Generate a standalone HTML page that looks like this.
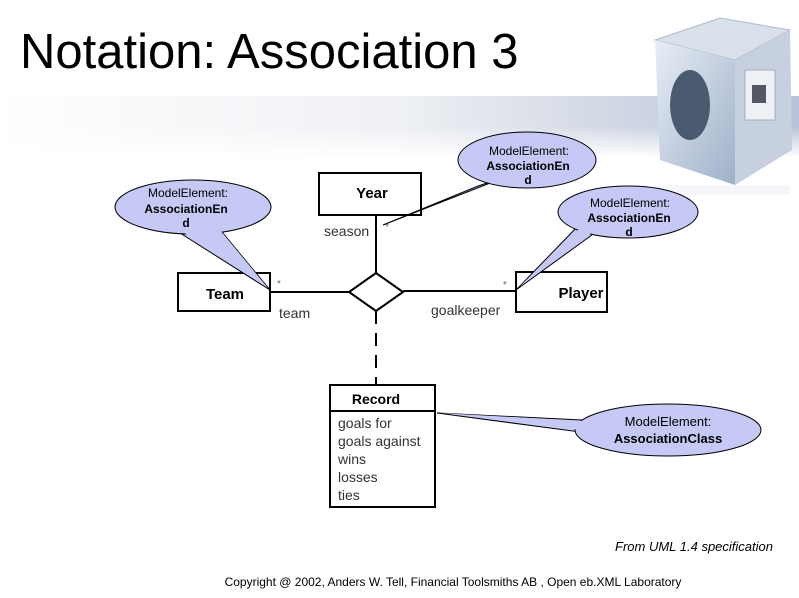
<!DOCTYPE html>
<html><head><meta charset="utf-8"><style>
body{margin:0;background:#fff;}
svg{display:block;font-family:"Liberation Sans",Arial,sans-serif;}
</style></head><body>
<svg width="799" height="598" viewBox="0 0 799 598" xmlns="http://www.w3.org/2000/svg">
<defs>
<linearGradient id="band" x1="0" x2="1" y1="0" y2="0">
<stop offset="0" stop-color="#ffffff"/><stop offset="0.5" stop-color="#eef0f4"/><stop offset="1" stop-color="#b8c2d6"/>
</linearGradient>
<linearGradient id="bandv" x1="0" x2="0" y1="0" y2="1">
<stop offset="0" stop-color="#fff" stop-opacity="0"/><stop offset="1" stop-color="#fff" stop-opacity="1"/>
</linearGradient>
<linearGradient id="cube" x1="0" x2="1" y1="0" y2="1">
<stop offset="0" stop-color="#e8eef6"/><stop offset="1" stop-color="#9fb0c8"/>
</linearGradient>
</defs>
<rect x="0" y="96" width="799" height="60" fill="url(#band)"/>
<rect x="0" y="126" width="799" height="32" fill="url(#bandv)"/>
<text x="20" y="68" font-size="49" fill="#000">Notation: Association 3</text>
<!-- cube -->
<polygon points="655,40 720,18 790,30 735,60" fill="#d8e0ea" stroke="#b0bccc"/>
<polygon points="655,40 735,60 735,185 660,160" fill="url(#cube)"/>
<polygon points="735,60 790,30 792,150 735,185" fill="#c6d0de"/>
<ellipse cx="690" cy="105" rx="20" ry="35" fill="#4a5a70"/>
<rect x="745" y="70" width="30" height="50" fill="#eef2f6" stroke="#aab"/>
<rect x="752" y="85" width="14" height="18" fill="#556"/>
<rect x="660" y="185" width="130" height="10" fill="#eef1f6" opacity="0.6"/>
<!-- lines -->
<g stroke="#000" stroke-width="2" fill="none">
<line x1="376" y1="215" x2="376" y2="273"/>
<line x1="270" y1="292" x2="349" y2="292"/>
<line x1="403" y1="291" x2="516" y2="291"/>
<line x1="376" y1="311" x2="376" y2="385" stroke-dasharray="13,9"/>
<polygon points="376,273 403,292 376,311 349,292" fill="#fff"/>
<rect x="319" y="173" width="102" height="42" fill="#fff"/>
<rect x="178" y="273" width="92" height="38" fill="#fff"/>
<rect x="516" y="272" width="91" height="40" fill="#fff"/>
<rect x="330" y="385" width="105" height="122" fill="#fff"/>
<line x1="330" y1="411" x2="435" y2="411"/>
</g>
<g font-size="15" font-weight="bold" text-anchor="middle">
<text x="372" y="198">Year</text>
<text x="225" y="299">Team</text>
<text x="581" y="298">Player</text>
<text x="376" y="404" font-size="14">Record</text>
</g>
<g font-size="14" fill="#333">
<text x="324" y="236">season</text>
<text x="279" y="318">team</text>
<text x="431" y="315">goalkeeper</text>
<text x="338" y="428">goals for</text>
<text x="338" y="446">goals against</text>
<text x="338" y="464">wins</text>
<text x="338" y="482">losses</text>
<text x="338" y="500">ties</text>
</g>
<g font-size="10" fill="#666">
<text x="385" y="230">*</text><text x="277" y="287">*</text><text x="503" y="288">*</text>
</g>
<!-- callouts -->
<g fill="#c6c8f6" stroke="#000" stroke-width="1">
<path d="M180,233 L270,290 L222,232 Z"/>
<ellipse cx="193" cy="207" rx="78" ry="27"/>
<path d="M508,176 L383,225 L478,186 Z"/>
<ellipse cx="527" cy="160" rx="69" ry="28"/>
<path d="M596,232 L516,290 L578,226 Z"/>
<ellipse cx="628" cy="212" rx="70" ry="26"/>
<path d="M582,420 L437,413 L580,432 Z"/>
<ellipse cx="668" cy="430" rx="93" ry="26"/>
</g>
<g stroke="none" fill="#c6c8f6">
<path d="M183,232 L268,288 L220,230 Z"/>
<path d="M506,178 L387,223 L480,188 Z"/>
<path d="M594,231 L519,287 L580,228 Z"/>
<path d="M584,421 L440,413 L582,430 Z"/>
</g>
<g font-size="12" text-anchor="middle" fill="#000">
<text x="188" y="197">ModelElement:</text>
<text x="186" y="213" font-weight="bold">AssociationEn</text>
<text x="186" y="227" font-weight="bold">d</text>
<text x="529" y="155">ModelElement:</text>
<text x="528" y="170" font-weight="bold">AssociationEn</text>
<text x="528" y="184" font-weight="bold">d</text>
<text x="630" y="207">ModelElement:</text>
<text x="629" y="222" font-weight="bold">AssociationEn</text>
<text x="629" y="236" font-weight="bold">d</text>
<text x="668" y="426" font-size="13">ModelElement:</text>
<text x="668" y="443" font-size="13" font-weight="bold">AssociationClass</text>
</g>
<text x="773" y="551" font-size="13" font-style="italic" text-anchor="end">From UML 1.4 specification</text>
<text x="453" y="586" font-size="12" text-anchor="middle">Copyright @ 2002, Anders W. Tell, Financial Toolsmiths AB , Open eb.XML Laboratory</text>
</svg>
</body></html>
